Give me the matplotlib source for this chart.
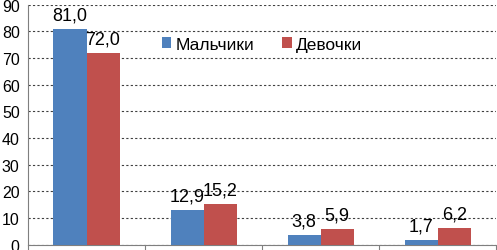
import matplotlib
matplotlib.use("Agg")
import matplotlib.pyplot as plt
import numpy as np

matplotlib.rcParams["font.family"] = ["Liberation Sans", "DejaVu Sans"]

categories = ["1", "2", "3", "4"]
boys = [81.0, 12.9, 3.8, 1.7]
girls = [72.0, 15.2, 5.9, 6.2]
series_names = ["Мальчики", "Девочки"]
yticks = list(range(0, 100, 10))

blue = "#4F81BD"
red = "#C0504D"

fig = plt.figure(figsize=(4.97, 2.51), dpi=100)
ax = fig.add_axes([0.0563, 0.021, 0.942, 0.956])

x = np.arange(len(categories))
w = 0.282
b1 = ax.bar(x - w / 2, boys, width=w, color=blue, label=series_names[0], zorder=3)
b2 = ax.bar(x + w / 2, girls, width=w, color=red, label=series_names[1], zorder=3)

for bars, vals in ((b1, boys), (b2, girls)):
    for rect, v in zip(bars, vals):
        ax.annotate(f"{v:.1f}".replace(".", ","),
                    (rect.get_x() + rect.get_width() / 2, rect.get_height()),
                    xytext=(0, 4), textcoords="offset points",
                    ha="center", va="bottom", fontsize=13)

ax.set_xlim(-0.5, len(categories) - 0.5)
ax.set_ylim(0, 90)
ax.set_yticks(yticks)
ax.tick_params(axis="y", length=0, pad=6, labelsize=11.5)
ax.set_xticks(np.arange(len(categories) + 1) - 0.5)
ax.set_xticklabels([])
ax.tick_params(axis="x", length=5, width=0.8, color="#7f7f7f", direction="out")

ax.yaxis.grid(True, linestyle=(0, (2, 2)), color="#404040", linewidth=0.8)
ax.set_axisbelow(True)
for s in ("top", "right"):
    ax.spines[s].set_visible(False)
ax.spines["left"].set_color("#7f7f7f")
ax.spines["bottom"].set_color("#7f7f7f")

ax.legend(loc="center", bbox_to_anchor=(0.5, 0.835), ncol=2, frameon=False,
          fontsize=12.5, handlelength=0.55, handleheight=0.55, handletextpad=0.25,
          columnspacing=1.6)

fig.savefig("out.png", dpi=100)
